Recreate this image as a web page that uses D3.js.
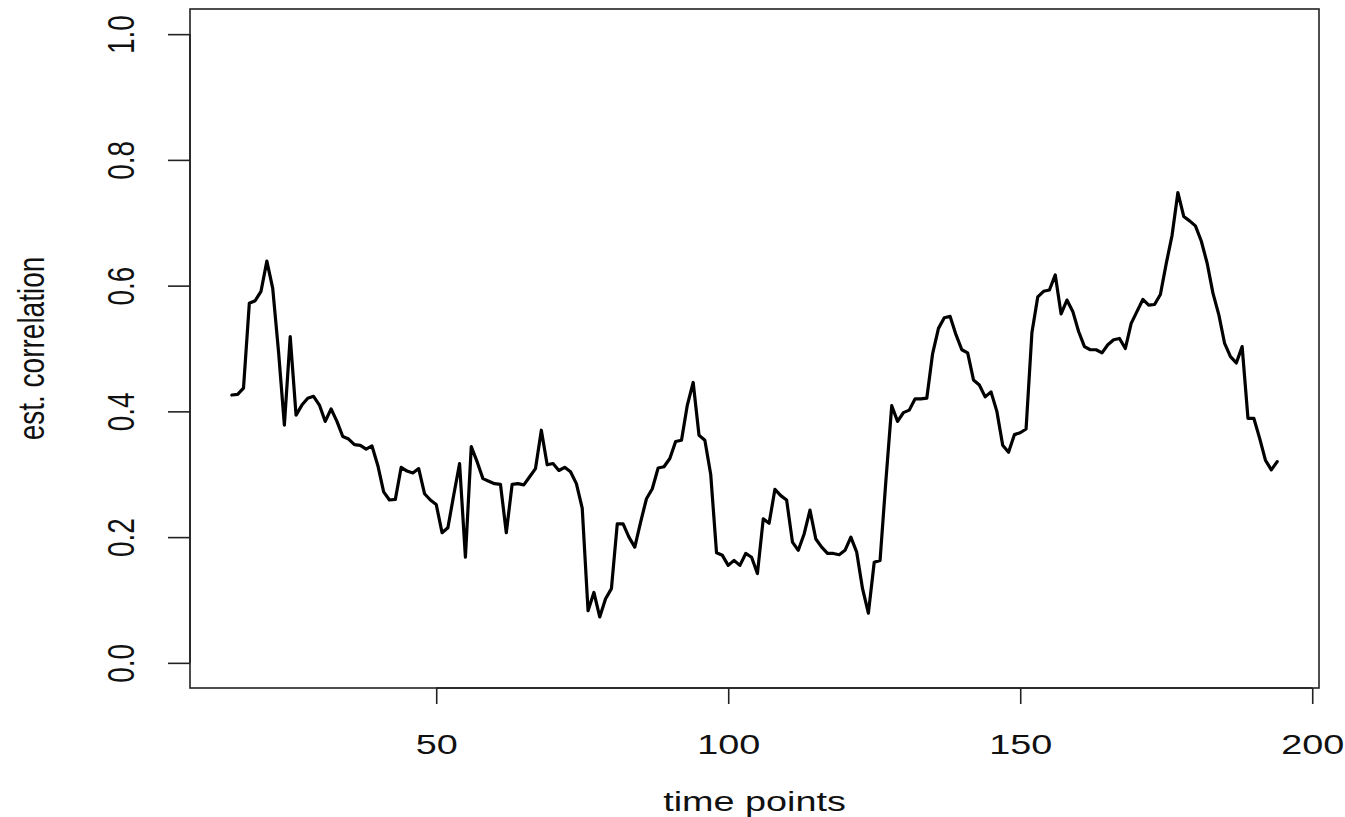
<!DOCTYPE html>
<html>
<head>
<meta charset="utf-8">
<script src="https://cdn.jsdelivr.net/npm/d3@7"></script>
<style>
  html, body { margin: 0; padding: 0; background: #ffffff; }
  svg { display: block; }
  text { font-family: "Liberation Sans", Arial, sans-serif; fill: #111; }
</style>
</head>
<body>
<svg id="chart" width="1345" height="817"></svg>
<script>
// ---- data ----
const timeStart = 15;
const correlation = [
  0.426, 0.427, 0.437, 0.572, 0.576, 0.591, 0.639, 0.596, 0.495, 0.378,
  0.519, 0.394, 0.410, 0.421, 0.424, 0.410, 0.384, 0.404, 0.384, 0.360,
  0.356, 0.347, 0.346, 0.340, 0.345, 0.314, 0.272, 0.259, 0.260, 0.311,
  0.305, 0.302, 0.309, 0.269, 0.259, 0.252, 0.207, 0.215, 0.267, 0.317,
  0.168, 0.344, 0.320, 0.293, 0.289, 0.285, 0.284, 0.207, 0.284, 0.285,
  0.283, 0.296, 0.309, 0.370, 0.315, 0.317, 0.306, 0.311, 0.304, 0.285,
  0.246, 0.083, 0.112, 0.073, 0.102, 0.118, 0.221, 0.221, 0.200, 0.184,
  0.224, 0.261, 0.277, 0.310, 0.312, 0.325, 0.352, 0.354, 0.410, 0.446,
  0.362, 0.354, 0.300, 0.175, 0.171, 0.155, 0.163, 0.155, 0.174, 0.168,
  0.142, 0.229, 0.222, 0.276, 0.266, 0.259, 0.192, 0.179, 0.205, 0.243,
  0.197, 0.184, 0.174, 0.174, 0.172, 0.179, 0.200, 0.176, 0.118, 0.079,
  0.160, 0.163, 0.290, 0.409, 0.384, 0.398, 0.402, 0.420, 0.420, 0.421,
  0.492, 0.532, 0.549, 0.551, 0.522, 0.498, 0.493, 0.450, 0.442, 0.423,
  0.431, 0.400, 0.346, 0.335, 0.363, 0.366, 0.372, 0.525, 0.582, 0.591,
  0.593, 0.617, 0.555, 0.577, 0.559, 0.527, 0.503, 0.498, 0.498, 0.493,
  0.506, 0.514, 0.516, 0.500, 0.540, 0.559, 0.578, 0.569, 0.570, 0.586,
  0.635, 0.680, 0.748, 0.710, 0.703, 0.695, 0.671, 0.636, 0.588, 0.554,
  0.508, 0.487, 0.477, 0.503, 0.389, 0.389, 0.357, 0.322, 0.307, 0.320
];
const timePoints = correlation.map((_, i) => timeStart + i);
const xTicks = [50, 100, 150, 200];
const yTicks = [0.0, 0.2, 0.4, 0.6, 0.8, 1.0];
const yLimits = [0, 1];
const xTitle = "time points";
const yTitle = "est. correlation";

// ---- layout ----
const box = { left: 190, right: 1319, top: 9, bottom: 688 };
const sx = 1.35;     // horizontal stretch of the original raster
const fontSize = 28;

// R-style 4% axis extension
const xExt = d3.extent(timePoints);
const xPad = (xExt[1] - xExt[0]) * 0.04;
const yPad = (yLimits[1] - yLimits[0]) * 0.04;

const x = d3.scaleLinear().domain([xExt[0] - xPad, xExt[1] + xPad]).range([box.left, box.right]);
const y = d3.scaleLinear().domain([yLimits[0] - yPad, yLimits[1] + yPad]).range([box.bottom, box.top]);

const svg = d3.select("#chart");

// line
const line = d3.line().x((d, i) => x(timePoints[i])).y(d => y(d));
svg.append("path")
  .datum(correlation)
  .attr("d", line)
  .attr("fill", "none")
  .attr("stroke", "#000")
  .attr("stroke-width", 3.2)
  .attr("stroke-linejoin", "round")
  .attr("stroke-linecap", "round");

// box
svg.append("rect")
  .attr("x", box.left).attr("y", box.top)
  .attr("width", box.right - box.left).attr("height", box.bottom - box.top)
  .attr("fill", "none").attr("stroke", "#222").attr("stroke-width", 1.6);

// x axis
const xAxis = d3.axisBottom(x).tickValues(xTicks).tickSize(16).tickPadding(0).tickFormat(d3.format("d"));
const gx = svg.append("g").attr("transform", `translate(0,${box.bottom})`).call(xAxis);
gx.select(".domain").attr("d", `M${x(xTicks[0])},0H${x(xTicks[xTicks.length - 1])}`).attr("stroke", "#222").attr("stroke-width", 1.6);
gx.selectAll(".tick line").attr("stroke", "#222").attr("stroke-width", 1.6);
gx.selectAll(".tick text")
  .attr("y", null).attr("dy", null)
  .attr("font-size", fontSize)
  .attr("text-anchor", "middle")
  .attr("transform", `translate(0,66) scale(${sx},1)`);

// y axis
const yAxis = d3.axisLeft(y).tickValues(yTicks).tickSize(22).tickPadding(0).tickFormat(d3.format(".1f"));
const gy = svg.append("g").attr("transform", `translate(${box.left},0)`).call(yAxis);
gy.select(".domain").attr("d", `M0,${y(yTicks[0])}V${y(yTicks[yTicks.length - 1])}`).attr("stroke", "#222").attr("stroke-width", 1.6);
gy.selectAll(".tick line").attr("stroke", "#222").attr("stroke-width", 1.6);
gy.selectAll(".tick text")
  .attr("x", null).attr("dy", null)
  .attr("font-size", fontSize)
  .attr("text-anchor", "middle")
  .attr("transform", `translate(-56,0) scale(${sx},1) rotate(-90)`);

// titles
svg.append("text")
  .attr("font-size", fontSize)
  .attr("text-anchor", "middle")
  .attr("transform", `translate(${(box.left + box.right) / 2},811) scale(${sx},1)`)
  .text(xTitle);

svg.append("text")
  .attr("font-size", fontSize)
  .attr("text-anchor", "middle")
  .attr("transform", `translate(44,${(box.top + box.bottom) / 2}) scale(${sx},1) rotate(-90)`)
  .text(yTitle);
</script>
</body>
</html>
